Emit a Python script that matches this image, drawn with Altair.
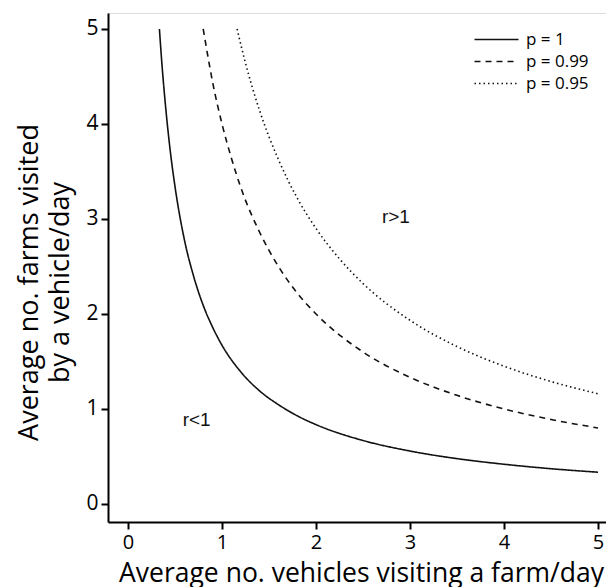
import altair as alt
import pandas as pd

# ---- data ----
series_names = ["p = 1", "p = 0.99", "p = 0.95"]

p100_x = [0.334, 0.36, 0.40, 0.45, 0.50, 0.60, 0.70, 0.80, 0.90, 1.00, 1.20, 1.40, 1.60,
          1.80, 2.00, 2.50, 3.00, 3.50, 4.00, 4.50, 5.00]
p100_y = [5.00, 4.64, 4.18, 3.71, 3.34, 2.78, 2.39, 2.09, 1.86, 1.67, 1.39, 1.19, 1.045,
          0.928, 0.835, 0.668, 0.557, 0.477, 0.418, 0.371, 0.334]

p099_x = [0.80, 0.85, 0.90, 1.00, 1.10, 1.20, 1.40, 1.60, 1.80, 2.00, 2.50, 3.00, 3.50,
          4.00, 4.50, 5.00]
p099_y = [5.00, 4.71, 4.44, 4.00, 3.64, 3.33, 2.86, 2.50, 2.22, 2.00, 1.60, 1.333, 1.143,
          1.00, 0.889, 0.80]

p095_x = [1.16, 1.25, 1.40, 1.60, 1.80, 2.00, 2.25, 2.50, 3.00, 3.50, 4.00, 4.50, 5.00]
p095_y = [5.00, 4.64, 4.14, 3.625, 3.22, 2.90, 2.58, 2.32, 1.933, 1.657, 1.45, 1.289, 1.16]

region_labels = ["r>1", "r<1"]
region_x = [2.85, 0.73]
region_y = [3.02, 0.88]

tick_values = [0, 1, 2, 3, 4, 5]

# ---- build tables ----
rows = []
for name, xs, ys in zip(series_names, [p100_x, p099_x, p095_x], [p100_y, p099_y, p095_y]):
    for i, (xv, yv) in enumerate(zip(xs, ys)):
        rows.append({"series": name, "order": i, "x": xv, "y": yv})
lines_df = pd.DataFrame(rows)
text_df = pd.DataFrame({"label": region_labels, "x": region_x, "y": region_y})

FONT = "Open Sans"

x_scale = alt.Scale(domain=[-0.213, 5.085], nice=False, zero=False)
y_scale = alt.Scale(domain=[-0.19, 5.168], nice=False, zero=False)

x_axis = alt.Axis(
    values=tick_values, format="d", grid=False,
    title="Average no. vehicles visiting a farm/day",
    titleFont=FONT, titleFontSize=26.5, titleFontWeight="normal", titleColor="#000",
    titleX=253, titleY=59, titleBaseline="alphabetic", titleAlign="center",
    labelFont=FONT, labelFontSize=20, labelColor="#000", labelPadding=3,
    tickSize=7, tickWidth=2, tickColor="#000",
    domainColor="#000", domainWidth=2,
)
y_axis = alt.Axis(
    values=tick_values, format="d", grid=False,
    title=["Average no. farms visited", "by a vehicle/day"],
    titleFont=FONT, titleFontSize=27, titleFontWeight="normal", titleColor="#000",
    titleX=-71, titleY=269, titleAngle=270, titleBaseline="alphabetic",
    titleAlign="center", titleLineHeight=31,
    labelFont=FONT, labelFontSize=21, labelColor="#000", labelPadding=3,
    tickSize=7, tickWidth=2, tickColor="#000",
    domainColor="#000", domainWidth=2,
)

lines = alt.Chart(lines_df).mark_line(
    color="#111", strokeWidth=1.6, interpolate="monotone"
).encode(
    x=alt.X("x:Q", scale=x_scale, axis=x_axis),
    y=alt.Y("y:Q", scale=y_scale, axis=y_axis),
    strokeDash=alt.StrokeDash(
        "series:N",
        scale=alt.Scale(domain=series_names, range=[[1, 0], [6, 5], [1.5, 3]]),
        legend=alt.Legend(
            title=None, orient="none", legendX=380, legendY=18,
            symbolType="M-4,0H4", symbolSize=121, symbolStrokeWidth=1.6,
            symbolStrokeColor="#111",
            labelFont=FONT, labelFontSize=17, labelColor="#000", labelOffset=21,
            rowPadding=4, padding=0,
        ),
    ),
    order="order:Q",
)

texts = alt.Chart(text_df).mark_text(
    font="Liberation Sans", fontSize=19, color="#111"
).encode(
    x=alt.X("x:Q", scale=x_scale),
    y=alt.Y("y:Q", scale=y_scale),
    text="label:N",
)

chart = alt.layer(lines, texts).properties(
    width=498, height=509,
    autosize=alt.AutoSizeParams(type="none"),
    padding={"left": 100, "top": 5, "right": 0, "bottom": 65},
).configure_view(stroke=None).configure(background="white")

chart.save("out.html", embed_options={"renderer": "svg", "actions": False})
